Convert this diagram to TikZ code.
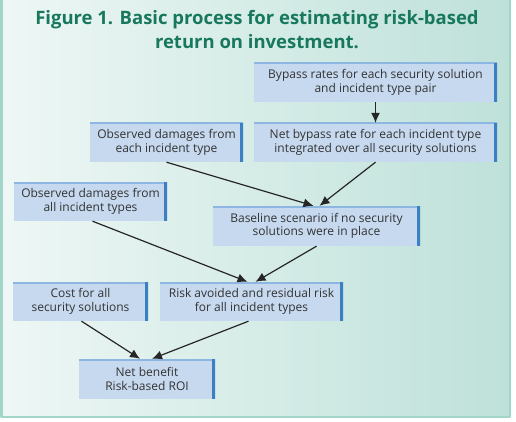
\documentclass[tikz,border=0pt]{standalone}
\usepackage{fontspec}
\setmainfont{Open Sans}
\usetikzlibrary{arrows.meta}

\definecolor{titlegreen}{HTML}{17785D}
\definecolor{boxfill}{HTML}{C6D9EF}
\definecolor{boxedge}{HTML}{3C80C4}
\definecolor{boxtop}{HTML}{8DB6E0}
\definecolor{framecol}{HTML}{A3D5C9}
\definecolor{bgleft}{HTML}{EEF7F5}
\definecolor{bgright}{HTML}{BEE1D9}
\definecolor{textgray}{HTML}{333333}

\begin{document}
\begin{tikzpicture}[
				x=1pt, y=-1pt,
				line join=round,
				>={Latex[length=10pt,width=9pt]},
				stage/.style={
					fill=boxfill, text=textgray, align=center,
					minimum height=39pt, inner sep=0pt,
					font=\fontsize{12}{13.5}\selectfont,
					path picture={
						\draw[boxtop, line width=3pt] (path picture bounding box.north west) -- (path picture bounding box.north east);
						\draw[boxedge, line width=6pt] (path picture bounding box.north east) -- (path picture bounding box.south east);
					}
				},
				flow/.style={->, line width=1.2pt, draw=black!85}
				]
				
				% Background and frame
				\useasboundingbox (0,0) rectangle (516,422);
				\shade[left color=bgleft, right color=bgright] (1.5,-5) rectangle (510,417);
				\draw[framecol, line width=2.5pt] (1.5,-5) -- (1.5,417) -- (510,417) -- (510,-5);
				
				% Title
				\node[text=titlegreen, align=center, font=\bfseries\fontsize{18.5}{24}\selectfont] (title) at (257,30)
					{Figure 1. Basic process for estimating risk-based\\return on investment.};
				
				% Stages
				\node[stage, minimum width=243pt] (bypass) at (375.5,82.5)
					{Bypass rates for each security solution\\and incident type pair};
				\node[stage, minimum width=153pt] (obseach) at (166.5,142.5)
					{Observed damages from\\each incident type};
				\node[stage, minimum width=243pt] (netbypass) at (375.5,142.5)
					{Net bypass rate for each incident type\\integrated over all security solutions};
				\node[stage, minimum width=153pt] (obsall) at (90.5,201.5)
					{Observed damages from\\all incident types};
				\node[stage, minimum width=207pt, minimum height=40pt] (baseline) at (316.5,226)
					{Baseline scenario if no security\\solutions were in place};
				\node[stage, minimum width=135pt] (cost) at (80.5,301.5)
					{Cost for all\\security solutions};
				\node[stage, minimum width=183pt] (risk) at (251.5,301.5)
					{Risk avoided and residual risk\\for all incident types};
				\node[stage, minimum width=136pt, minimum height=40pt] (net) at (147,379)
					{Net benefit\\Risk-based ROI};
				
				% Arrows
				\draw[flow] (bypass) -- (netbypass);
				\draw[flow] (obseach.south) -- ([xshift=-3pt]baseline.north);
				\draw[flow] (netbypass.south) -- ([xshift=3pt]baseline.north);
				\draw[flow] ([xshift=2pt]obsall.south) -- ([xshift=-4pt]risk.north);
				\draw[flow] (baseline.south) -- ([xshift=4pt]risk.north);
				\draw[flow] ([xshift=1pt]cost.south) -- ([xshift=-7pt]net.north);
				\draw[flow] ([xshift=-3pt]risk.south) -- ([xshift=5pt]net.north);
				
			\end{tikzpicture}
\end{document}
